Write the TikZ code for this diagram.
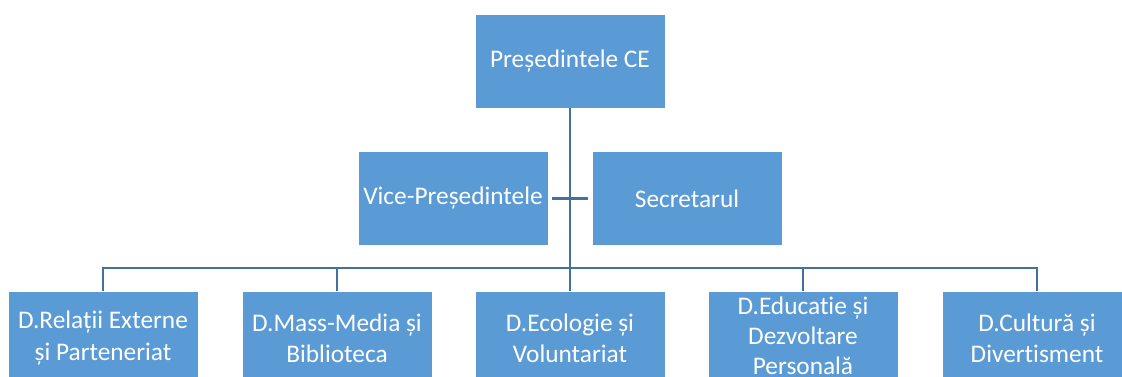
\documentclass[tikz,border=0pt]{standalone}
\usepackage{fontspec}
\setmainfont{Carlito}[Ligatures={NoCommon}]
\usepackage{xcolor}
\usepackage{tikz}
\usetikzlibrary{positioning}

\definecolor{boxblue}{HTML}{5B9BD5}
\definecolor{lineblue}{HTML}{41719C}

\begin{document}
\begin{tikzpicture}[x=0.75pt, y=-0.75pt,
  box/.style={draw=white, line width=0.6pt, fill=boxblue, text=white,
    minimum width=142.5pt, minimum height=70.5pt, inner sep=0pt,
    align=center, font=\fontsize{19}{23.5}\selectfont},
  link/.style={draw=lineblue, line width=1.6pt}]
\useasboundingbox (0,0) rectangle (1122,377);

% Top level
\node[box] (pres) at (570,61) {Președintele CE};

% Second level
\node[box] (vice) at (453,198.5) {Vice-Președintele};
\node[box] (secr) at (687,198.5) {Secretarul};

% Departments
\node[box] (rel)  at (103,338) {D.Relații Externe\\și Parteneriat};
\node[box] (mass) at (337,338) {D.Mass-Media și\\Biblioteca};
\node[box] (eco)  at (570,338) {D.Ecologie și\\Voluntariat};
\node[box, font=\fontsize{19}{22.5}\selectfont] (edu) at (803,338) {D.Educatie și\\Dezvoltare\\Personală\vspace{4pt}};
\node[box] (cult) at (1037,338) {D.Cultură și\\Divertisment};

% Connectors
\coordinate (bus) at (570,268);
\draw[link] (pres.south) -- (eco.north);
\draw[link, shorten <=3pt, shorten >=3pt] (vice.east) -- (secr.west);
\draw[link] (rel.north) |- (cult.north |- bus) -- (cult.north);
\draw[link] (mass.north) -- (mass.north |- bus);
\draw[link] (edu.north) -- (edu.north |- bus);
\end{tikzpicture}
\end{document}
